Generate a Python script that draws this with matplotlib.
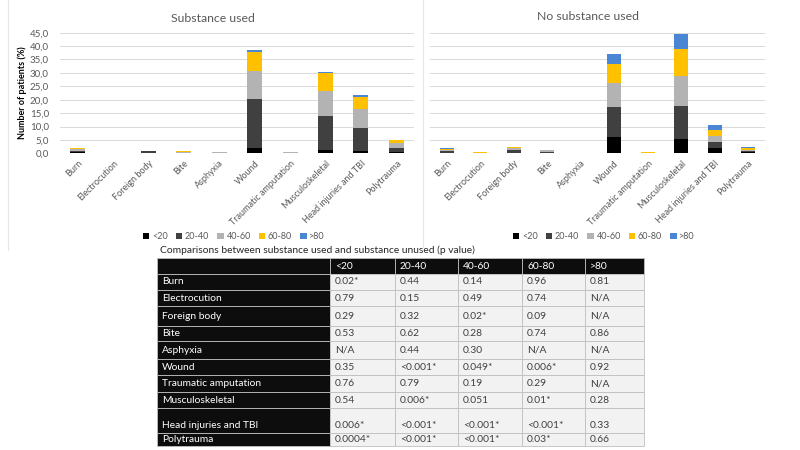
import matplotlib
matplotlib.use('Agg')
import matplotlib.pyplot as plt
import matplotlib.patches as patches
from matplotlib.ticker import FuncFormatter, MultipleLocator
import numpy as np

plt.rcParams['font.family'] = ['Lato', 'DejaVu Sans']

##################
# data
##################
CATEGORIES = ['Burn', 'Electrocution', 'Foreign body', 'Bite', 'Asphyxia', 'Wound',
              'Traumatic amputation', 'Musculoskeletal', 'Head injuries and TBI', 'Polytrauma']
AGE_GROUPS = ['<20', '20-40', '40-60', '60-80', '>80']

# percent of patients, one list per age group (same order as CATEGORIES)
USED_LT20 = [0.3, 0.0, 0.1, 0.05, 0.0, 2.0, 0.0, 1.4, 0.9, 0.3]
USED_20_40 = [0.7, 0.0, 0.7, 0.15, 0.0, 18.4, 0.0, 12.4, 8.6, 1.7]
USED_40_60 = [0.6, 0.0, 0.2, 0.1, 0.3, 10.3, 0.3, 9.6, 6.9, 1.9]
USED_60_80 = [0.5, 0.0, 0.0, 0.4, 0.0, 7.1, 0.0, 6.4, 4.6, 1.2]
USED_GT80 = [0.0, 0.0, 0.0, 0.0, 0.0, 0.9, 0.0, 0.6, 0.7, 0.0]

UNUSED_LT20 = [0.25, 0.05, 0.25, 0.05, 0.0, 6.2, 0.05, 5.4, 1.9, 0.3]
UNUSED_20_40 = [0.65, 0.1, 1.0, 0.6, 0.05, 10.9, 0.1, 12.2, 2.4, 0.6]
UNUSED_40_60 = [0.4, 0.1, 0.6, 0.4, 0.2, 9.1, 0.1, 11.4, 2.1, 0.5]
UNUSED_60_80 = [0.4, 0.3, 0.5, 0.05, 0.0, 7.0, 0.3, 10.1, 2.3, 0.5]
UNUSED_GT80 = [0.3, 0.0, 0.1, 0.15, 0.0, 3.8, 0.0, 5.5, 1.7, 0.3]

TABLE_TITLE = 'Comparisons between substance used and substance unused (p value)'
P_VALUES = [
    ['0.02*', '0.44', '0.14', '0.96', '0.81'],
    ['0.79', '0.15', '0.49', '0.74', 'N/A'],
    ['0.29', '0.32', '0.02*', '0.09', 'N/A'],
    ['0.53', '0.62', '0.28', '0.74', '0.86'],
    ['N/A', '0.44', '0.30', 'N/A', 'N/A'],
    ['0.35', '<0.001*', '0.049*', '0.006*', '0.92'],
    ['0.76', '0.79', '0.19', '0.29', 'N/A'],
    ['0.54', '0.006*', '0.051', '0.01*', '0.28'],
    ['0.006*', '<0.001*', '<0.001*', '<0.001*', '0.33'],
    ['0.0004*', '<0.001*', '<0.001*', '0.03*', '0.66'],
]

##################
# styles / layout
##################
COLORS = ['#000000', '#404040', '#b3b3b3', '#ffc000', '#4a86d4']
TEXT_GREY = '#595959'
GRID_GREY = '#d9d9d9'

# table geometry in pixels (figure is 800x450)
COL_EDGES = [157, 330, 395, 458, 522, 585, 644]
ROW_HEIGHTS = [15.5, 16, 16.5, 19.5, 15.5, 17.5, 16.5, 16.5, 16.5, 24.5, 13]
TABLE_TOP = 258.3


def draw_stacked(ax, series, title_x, title_y, title):
    x = np.arange(len(CATEGORIES))
    bottom = np.zeros(len(CATEGORIES))
    for label, values, color in zip(AGE_GROUPS, series, COLORS):
        values = np.array(values)
        ax.bar(x, values, 0.42, bottom=bottom, color=color, label=label, zorder=3)
        bottom += values

    ax.set_xlim(-0.5, len(CATEGORIES) - 0.5)
    ax.set_ylim(0, 45)
    ax.yaxis.set_major_locator(MultipleLocator(5))
    ax.grid(axis='y', color=GRID_GREY, linewidth=0.7, zorder=0)
    for s in ax.spines.values():
        s.set_visible(False)
    ax.set_xticks(x)
    ax.set_xticklabels(CATEGORIES, rotation=45, ha='right', rotation_mode='anchor',
                       fontsize=6.5, color=TEXT_GREY)
    ax.tick_params(axis='x', length=0, pad=4)
    ax.tick_params(axis='y', length=0, pad=8, labelsize=7, labelcolor=TEXT_GREY)

    fig = ax.figure
    fig.text(title_x / 800, 1 - title_y / 450, title, ha='center', va='center',
             fontsize=8.8, color=TEXT_GREY)


fig = plt.figure(figsize=(8, 4.5), dpi=100)

left_ax = fig.add_axes([60 / 800, 1 - 153.3 / 450, 354 / 800, 120.6 / 450])
right_ax = fig.add_axes([430 / 800, 1 - 153.3 / 450, 335 / 800, 120.6 / 450])

draw_stacked(left_ax, [USED_LT20, USED_20_40, USED_40_60, USED_60_80, USED_GT80],
             213, 18, 'Substance used')
draw_stacked(right_ax, [UNUSED_LT20, UNUSED_20_40, UNUSED_40_60, UNUSED_60_80, UNUSED_GT80],
             588, 16, 'No substance used')

left_ax.yaxis.set_major_formatter(FuncFormatter(lambda v, p: ('%.1f' % v).replace('.', ',')))
left_ax.set_ylabel('Number of patients (%)', fontsize=6.5, fontweight='bold', labelpad=2)
right_ax.set_yticklabels([])

for ax, cx in ((left_ax, 234), (right_ax, 604)):
    ax.legend(loc='center', bbox_to_anchor=(cx / 800, 1 - 237 / 450),
              bbox_transform=fig.transFigure, ncol=5, frameon=False, fontsize=6.5,
              handlelength=0.7, handleheight=0.7, handletextpad=0.3, columnspacing=0.9,
              labelcolor=TEXT_GREY)

##################
# overlay: chart borders and p value table
##################
over_ax = fig.add_axes([0, 0, 1, 1], zorder=-1)
over_ax.set_xlim(0, 800)
over_ax.set_ylim(450, 0)
over_ax.axis('off')
over_ax.plot([8, 8], [0, 250], color='#e6e6e6', linewidth=0.8)
over_ax.plot([423.3, 423.3], [0, 247], color='#e6e6e6', linewidth=0.8)

tab_ax = fig.add_axes([0, 0, 1, 1])
tab_ax.set_xlim(0, 800)
tab_ax.set_ylim(450, 0)
tab_ax.axis('off')
tab_ax.text(160, 250, TABLE_TITLE, fontsize=7.4, color='#262626', va='center', ha='left')

header = [''] + AGE_GROUPS
rows = [header] + [[c] + p for c, p in zip(CATEGORIES, P_VALUES)]
y = TABLE_TOP
for r, (row, h) in enumerate(zip(rows, ROW_HEIGHTS)):
    # tall rows keep their text near the bottom, the rest centre it
    ty = y + h / 2 if h < 20 else y + h - 7.5
    for c, txt in enumerate(row):
        x0, x1 = COL_EDGES[c], COL_EDGES[c + 1]
        dark = (r == 0) or (c == 0)
        face = '#0d0d0d' if dark else '#f2f2f2'
        tab_ax.add_patch(patches.Rectangle((x0, y), x1 - x0, h, facecolor=face,
                                           edgecolor='#bfbfbf', linewidth=0.6,
                                           clip_on=False))
        tab_ax.text(x0 + 5, ty, txt, fontsize=7.4, va='center', ha='left',
                    color='white' if dark else '#404040')
    y += h

fig.savefig('out.png', dpi=100)
